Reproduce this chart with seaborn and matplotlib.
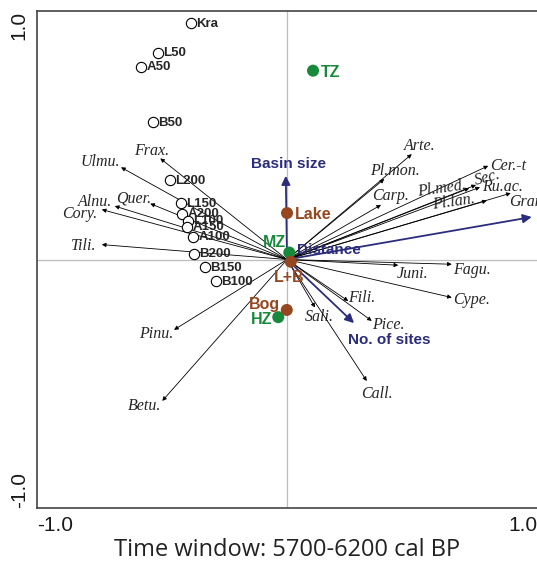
import matplotlib
matplotlib.use('Agg')
import matplotlib.pyplot as plt
import seaborn as sns
import pandas as pd

# samples (open circles)
sample_names = ['Kra', 'L50', 'A50', 'B50', 'L200', 'L150', 'A200', 'L100',
                'A150', 'A100', 'B200', 'B150', 'B100']
sample_x = [-0.384, -0.516, -0.584, -0.536, -0.468, -0.424, -0.42, -0.396,
            -0.40, -0.376, -0.372, -0.328, -0.284]
sample_y = [0.952, 0.832, 0.776, 0.552, 0.32, 0.228, 0.184, 0.156,
            0.132, 0.092, 0.024, -0.032, -0.088]

# centroids
cent_names = ['TZ', 'MZ', 'HZ', 'Lake', 'L+B', 'Bog']
cent_x = [0.104, 0.009, -0.035, 0.0, 0.015, -0.001]
cent_y = [0.76, 0.028, -0.232, 0.187, -0.009, -0.203]
cent_group = ['zone', 'zone', 'zone', 'type', 'type', 'type']

# environmental vectors
env_names = ['Basin size', 'Distance', 'No. of sites']
env_x = [-0.005, 0.979, 0.268]
env_y = [0.337, 0.171, -0.256]

# pollen taxa vectors
taxa = ['Frax.', 'Ulmu.', 'Quer.', 'Alnu.', 'Cory.', 'Tili.', 'Arte.', 'Pl.mon.',
        'Carp.', 'Cer.-t', 'Sec.', 'Pl.med.', 'Ru.ac.', 'Pl.lan.', 'Gram.',
        'Juni.', 'Fagu.', 'Cype.', 'Fili.', 'Pice.', 'Sali.', 'Call.', 'Pinu.', 'Betu.']
taxa_x = [-0.507, -0.664, -0.547, -0.689, -0.741, -0.741, 0.499, 0.389,
          0.376, 0.805, 0.756, 0.729, 0.772, 0.799, 0.895,
          0.445, 0.659, 0.659, 0.245, 0.339, 0.112, 0.319, -0.452, -0.499]
taxa_y = [0.407, 0.371, 0.225, 0.215, 0.201, 0.06, 0.424, 0.324,
          0.22, 0.377, 0.30, 0.287, 0.291, 0.237, 0.267,
          -0.023, -0.019, -0.153, -0.167, -0.247, -0.193, -0.489, -0.283, -0.569]

GREEN = '#17893a'
BROWN = '#97471f'
NAVY = '#2b2d7c'

sns.set_style('white')
plt.rcParams['font.family'] = ['Liberation Sans', 'DejaVu Sans']

fig = plt.figure(figsize=(5.37, 5.66), dpi=100)
ax = fig.add_axes([0.069, 0.1025, 0.931, 0.878])
ax.set_xlim(-1, 1)
ax.set_ylim(-1, 1)

ax.axhline(0, color='#bdbdbd', lw=0.9, zorder=0)
ax.axvline(0, color='#bdbdbd', lw=0.9, zorder=0)

# taxa arrows: label offsets in points (dx, dy, ha, rotation)
label_off = {
    'Frax.': (-6, 5, 'center', 0), 'Ulmu.': (-15, 4, 'center', 0),
    'Quer.': (-12, 4, 'center', 0), 'Alnu.': (-14, 3, 'center', 0),
    'Cory.': (-16, -3, 'center', 0), 'Tili.': (-13, -1, 'center', 0),
    'Arte.': (-6, 6, 'left', 0), 'Pl.mon.': (-10, 6, 'left', 0),
    'Carp.': (-6.5, 6.5, 'left', 0), 'Cer.-t': (1.5, 0, 'left', 0),
    'Sec.': (-1, 3, 'left', 15), 'Pl.med.': (-37, -3, 'left', 8),
    'Ru.ac.': (1.5, 0, 'left', 0), 'Pl.lan.': (-39, -3, 'left', 8),
    'Gram.': (-1.5, -6.5, 'left', 0), 'Juni.': (-1, -6, 'left', 0),
    'Fagu.': (1, -4.5, 'left', 0), 'Cype.': (1, -2, 'left', 0),
    'Fili.': (0, 2, 'left', 0), 'Pice.': (0, -3, 'left', 0),
    'Sali.': (-7, -7, 'left', 0), 'Call.': (-4, -9, 'left', 0),
    'Pinu.': (-25, -3, 'left', 0), 'Betu.': (-25, -4, 'left', 0),
}
for name, tx, ty in zip(taxa, taxa_x, taxa_y):
    ax.annotate('', xy=(tx, ty), xytext=(0, 0),
                arrowprops=dict(arrowstyle='-|>', color='black', lw=0.6,
                                mutation_scale=6, shrinkA=0, shrinkB=0))
    dx, dy, ha, rot = label_off[name]
    ax.annotate(name, xy=(tx, ty), xytext=(dx, dy), textcoords='offset points',
                ha=ha, va='center', fontsize=11.5, style='italic', rotation=rot,
                rotation_mode='anchor', family='Liberation Serif', clip_on=True)

# environmental arrows
for name, ex, ey in zip(env_names, env_x, env_y):
    ax.annotate('', xy=(ex, ey), xytext=(0, 0),
                arrowprops=dict(arrowstyle='-|>', color=NAVY, lw=1.3,
                                mutation_scale=13, shrinkA=0, shrinkB=0))
ax.text(0.005, 0.385, 'Basin size', color=NAVY, fontsize=11, fontweight='bold',
        ha='center', va='center')
ax.text(0.04, 0.038, 'Distance', color=NAVY, fontsize=11, fontweight='bold',
        ha='left', va='center')
ax.text(0.41, -0.325, 'No. of sites', color=NAVY, fontsize=11, fontweight='bold',
        ha='center', va='center')

# samples
samples = pd.DataFrame({'x': sample_x, 'y': sample_y, 'name': sample_names})
sns.scatterplot(data=samples, x='x', y='y', ax=ax, s=55, facecolor='white',
                edgecolor='black', linewidth=0.8, zorder=4, legend=False)
for n, x, y in zip(sample_names, sample_x, sample_y):
    ax.annotate(n, xy=(x, y), xytext=(4, -0.5), textcoords='offset points',
                ha='left', va='center', fontsize=9.5, fontweight='bold', zorder=5)

# centroids
cents = pd.DataFrame({'x': cent_x, 'y': cent_y, 'group': cent_group})
sns.scatterplot(data=cents, x='x', y='y', hue='group', ax=ax, s=75,
                palette={'zone': GREEN, 'type': BROWN}, edgecolor='none',
                zorder=6, legend=False)
cent_lab = {
    'TZ': (6, -1, 'left', 'center'), 'MZ': (-2, 7, 'right', 'center'),
    'HZ': (-4, -2, 'right', 'center'), 'Lake': (6, -1, 'left', 'center'),
    'L+B': (-1, -11, 'center', 'center'), 'Bog': (-5, 4, 'right', 'center'),
}
for n, x, y, g in zip(cent_names, cent_x, cent_y, cent_group):
    dx, dy, ha, va = cent_lab[n]
    ax.annotate(n, xy=(x, y), xytext=(dx, dy), textcoords='offset points',
                ha=ha, va=va, fontsize=11.5, fontweight='bold',
                color=GREEN if g == 'zone' else BROWN, zorder=7)

# axes styling
ax.set_xticks([-1, -0.5, 0, 0.5, 1])
ax.set_xticklabels(['-1.0', '', '', '', '1.0'])
ax.set_yticks([-1, -0.5, 0, 0.5, 1])
ax.set_yticklabels(['-1.0', '', '', '', '1.0'], rotation=90)
ax.tick_params(direction='inout', length=6, width=1, color='#333333',
               labelcolor='#1a1a1a', labelsize=15, pad=3)
xl = ax.get_xticklabels()
xl[0].set_ha('left')
xl[-1].set_ha('right')
yl = ax.get_yticklabels()
yl[0].set_va('bottom')
yl[-1].set_va('top')
for s in ['left', 'bottom', 'top']:
    ax.spines[s].set_color('#444444')
    ax.spines[s].set_linewidth(1.2)
ax.spines['right'].set_visible(False)
ax.set_ylabel('')
ax.set_xlabel('Time window: 5700-6200 cal BP', fontsize=17, family='Open Sans',
              color='#222222', labelpad=2)

fig.savefig('out.png', dpi=100)
